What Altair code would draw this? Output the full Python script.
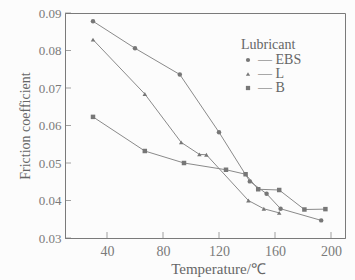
import altair as alt
import pandas as pd

ebs_t = [30, 60, 92, 120, 142, 154, 164, 193]
ebs_f = [0.0878, 0.0806, 0.0736, 0.0582, 0.0451, 0.0418, 0.0378, 0.0347]
l_t = [30, 67, 93, 106, 111, 141, 152, 163]
l_f = [0.0829, 0.0684, 0.0555, 0.0523, 0.0522, 0.0400, 0.0378, 0.0367]
b_t = [30, 67, 95, 125, 139, 148, 163, 181, 196]
b_f = [0.0623, 0.0532, 0.0500, 0.0482, 0.0470, 0.0430, 0.0428, 0.0376, 0.0377]
series = ["EBS", "L", "B"]
x_ticks = [40, 80, 120, 160, 200]
y_ticks = [0.03, 0.04, 0.05, 0.06, 0.07, 0.08, 0.09]

rows = []
for name, ts, fs in [("EBS", ebs_t, ebs_f), ("L", l_t, l_f), ("B", b_t, b_f)]:
    for i, (t, f) in enumerate(zip(ts, fs)):
        rows.append({"Lubricant": name, "T": t, "f": f, "order": i})
df = pd.DataFrame(rows)

GRAY = "#7a7a7a"
FONT = "Liberation Serif"
W, H = 280, 225

xs = alt.Scale(domain=[10, 210], nice=False)
ys = alt.Scale(domain=[0.03, 0.09], nice=False)

xaxis = alt.Axis(values=x_ticks, title="Temperature/℃", tickSize=0,
                 labelPadding=6, titlePadding=3, grid=False, labelOverlap=False,
                 domainColor=GRAY, labelColor=GRAY, titleColor="#666",
                 labelFont=FONT, titleFont=FONT, labelFontSize=14,
                 titleFontSize=15, titleFontWeight="normal", titleX=153)
yaxis = alt.Axis(values=y_ticks, format=".2f", title="Friction coefficient",
                 tickSize=0, labelPadding=4, titlePadding=6, grid=False,
                 labelOverlap=False, labelFlush=False, labelBound=False,
                 domainColor=GRAY, labelColor=GRAY, titleColor="#666",
                 labelFont=FONT, titleFont=FONT, labelFontSize=13,
                 titleFontSize=14, titleFontWeight="normal")

base = alt.Chart(df)
lines = base.mark_line(color="#8a8a8a", strokeWidth=1).encode(
    x=alt.X("T:Q", scale=xs, axis=xaxis),
    y=alt.Y("f:Q", scale=ys, axis=yaxis),
    detail="Lubricant:N",
    order="order:Q",
)
points = base.mark_point(filled=True, size=20, color="#777", opacity=1).encode(
    x=alt.X("T:Q", scale=xs, axis=xaxis),
    y=alt.Y("f:Q", scale=ys, axis=yaxis),
    shape=alt.Shape("Lubricant:N", sort=series,
                    scale=alt.Scale(domain=series, range=["circle", "triangle-up", "square"]),
                    legend=alt.Legend(title="Lubricant", orient="none", legendX=176, legendY=25,
                                      titleFont=FONT, labelFont=FONT, titleFontSize=14,
                                      labelFontSize=14, titleFontWeight="normal",
                                      titleColor="#666", labelColor="#666",
                                      symbolFillColor="#777", symbolStrokeColor="#777",
                                      symbolSize=18, rowPadding=0, labelOffset=3,
                                      titlePadding=1,
                                      labelExpr="'— ' + datum.label")),
)

xt = alt.Chart(pd.DataFrame({"T": x_ticks})).mark_tick(
    color=GRAY, orient="vertical", size=6, thickness=1).encode(
    x=alt.X("T:Q", scale=xs, axis=xaxis), y=alt.value(H - 3))
yt = alt.Chart(pd.DataFrame({"f": y_ticks})).mark_tick(
    color=GRAY, orient="horizontal", size=6, thickness=1).encode(
    y=alt.Y("f:Q", scale=ys, axis=yaxis), x=alt.value(3))

chart = alt.layer(lines, points, xt, yt).properties(
    width=W, height=H,
    autosize=alt.AutoSizeParams(type="none"),
    padding={"left": 65, "top": 13, "right": 10, "bottom": 42},
    background="#fcfcfc",
).configure_view(stroke=GRAY, strokeWidth=1).configure_axis(labelOverlap=False)

chart.save("out.html", embed_options={"renderer": "svg", "actions": False})
